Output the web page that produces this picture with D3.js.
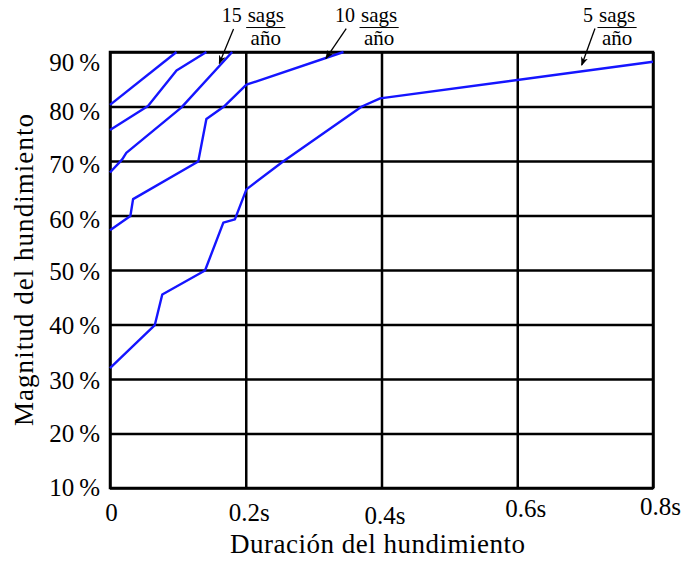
<!DOCTYPE html>
<html>
<head>
<meta charset="utf-8">
<script src="https://cdn.jsdelivr.net/npm/d3@7"></script>
<style>
  body { margin: 0; background: #fff; }
  svg { display: block; }
  text { font-family: "Liberation Serif", "DejaVu Serif", serif; fill: #000; }
</style>
</head>
<body>
<div id="chart"></div>
<script>
// sag curves: [duration (s), magnitude (%)]
const sags25 = [[0, 80.3], [0.098, 90]];
const sags20 = [[0, 75.7], [0.056, 80.1], [0.098, 86.6], [0.142, 90]];
const sags15 = [[0, 67.9], [0.018, 70.3], [0.024, 71.5], [0.105, 79.8], [0.18, 90]];
const sags10 = [[0, 57.3], [0.030, 59.9], [0.034, 63.0], [0.130, 69.9], [0.142, 77.7],
                [0.169, 80.1], [0.201, 84.0], [0.344, 90]];
const sags5 = [[0, 32.0], [0.066, 39.9], [0.077, 45.5], [0.140, 49.9], [0.167, 58.7],
               [0.184, 59.3], [0.201, 64.8], [0.255, 69.9], [0.371, 80.0], [0.398, 81.5],
               [0.8, 88.2]];

const xTicks = [0, 0.2, 0.4, 0.6, 0.8];
const xTickLabels = ["0", "0.2s", "0.4s", "0.6s", "0.8s"];
const yTicks = [10, 20, 30, 40, 50, 60, 70, 80, 90];

// arrow annotations: tip on the curve, tail, and where the number ends
const notes = [
  { n: "15", tip: [0.161, 87.9], tail: [0.182, 94.2], label: [0.194, 95.5] },
  { n: "10", tip: [0.318, 88.8], tail: [0.348, 94.3], label: [0.361, 95.5] },
  { n: "5",  tip: [0.695, 87.6], tail: [0.7145, 94.3], label: [0.7116, 95.5] }
];

const W = 685, H = 563;
const margin = { left: 110, right: 32, top: 52, bottom: 75 };
const w = W - margin.left - margin.right;
const h = H - margin.top - margin.bottom;

const svg = d3.select("#chart").append("svg").attr("width", W).attr("height", H);
const g = svg.append("g").attr("transform", `translate(${margin.left},${margin.top})`);

const x = d3.scaleLinear().domain([0, 0.8]).range([0, w]);
const y = d3.scaleLinear().domain([10, 90]).range([h, 0]);

// small label nudges so the tick text sits like the original
const xNudge = [[1, 0], [3, 0], [3, 3], [8, -4], [7, -6]];
const yNudge = { 90: 10, 80: 5, 70: 3, 60: 4, 50: 1, 40: 1, 30: 1, 20: 0, 10: -1 };

const gx = g.append("g").attr("transform", `translate(0,${h})`)
  .call(d3.axisBottom(x).tickValues(xTicks).tickFormat((d, i) => xTickLabels[i])
    .tickSizeInner(-h).tickSizeOuter(0).tickPadding(15));
gx.select(".domain").remove();
gx.selectAll(".tick line").attr("stroke", "#000").attr("stroke-width", 2.5);
gx.selectAll(".tick text").style("font-size", "25px").attr("fill", "#000")
  .attr("transform", (d, i) => `translate(${xNudge[i][0]},${xNudge[i][1]})`);

const gy = g.append("g")
  .call(d3.axisLeft(y).tickValues(yTicks).tickFormat(d => d + "\u2009%")
    .tickSizeInner(-w).tickSizeOuter(0).tickPadding(10));
gy.select(".domain").remove();
gy.selectAll(".tick line").attr("stroke", "#000").attr("stroke-width", 2.5);
gy.selectAll(".tick text").style("font-size", "25px").attr("fill", "#000")
  .attr("transform", d => `translate(0,${yNudge[d]})`);

g.append("rect").attr("width", w).attr("height", h)
  .attr("fill", "none").attr("stroke", "#000").attr("stroke-width", 2.5);

const line = d3.line().x(d => x(d[0])).y(d => y(d[1]));
[sags25, sags20, sags15, sags10, sags5].forEach(s => {
  g.append("path").datum(s).attr("d", line)
    .attr("fill", "none").attr("stroke", "#1515ff").attr("stroke-width", 2.4)
    .attr("stroke-linejoin", "round");
});

// arrow heads
svg.append("defs").append("marker")
  .attr("id", "head").attr("viewBox", "0 0 10 10")
  .attr("refX", 9).attr("refY", 5)
  .attr("markerWidth", 9).attr("markerHeight", 9)
  .attr("markerUnits", "userSpaceOnUse")
  .attr("orient", "auto")
  .append("path").attr("d", "M0,1 L10,5 L0,9 L3,5 z").attr("fill", "#000");

notes.forEach(a => {
  g.append("line")
    .attr("x1", x(a.tail[0])).attr("y1", y(a.tail[1]))
    .attr("x2", x(a.tip[0])).attr("y2", y(a.tip[1]))
    .attr("stroke", "#000").attr("stroke-width", 1.3)
    .attr("marker-end", "url(#head)");

  const lx = x(a.label[0]), ly = y(a.label[1]);
  g.append("text").attr("x", lx).attr("y", ly)
    .attr("text-anchor", "end").style("font-size", "20px").text(a.n);
  const top = g.append("text").attr("y", ly).style("font-size", "21px")
    .attr("text-anchor", "middle").text("sags");
  const tw = top.node().getComputedTextLength();
  const cx = lx + 5 + tw / 2 + 1;
  top.attr("x", cx);
  g.append("line")
    .attr("x1", cx - tw / 2 - 1.5).attr("x2", cx + tw / 2 + 1.5)
    .attr("y1", ly + 5.5).attr("y2", ly + 5.5)
    .attr("stroke", "#000").attr("stroke-width", 1);
  g.append("text").attr("x", cx).attr("y", ly + 23)
    .attr("text-anchor", "middle").style("font-size", "21px").text("año");
});

// axis titles
svg.append("text")
  .attr("x", margin.left + w / 2 - 4).attr("y", 553)
  .attr("text-anchor", "middle").style("font-size", "27px")
  .attr("textLength", 295).attr("lengthAdjust", "spacing")
  .text("Duración del hundimiento");

svg.append("text")
  .attr("transform", `translate(33,${margin.top + h / 2}) rotate(-90)`)
  .attr("text-anchor", "middle").style("font-size", "27px")
  .attr("textLength", 312).attr("lengthAdjust", "spacing")
  .text("Magnitud del hundimiento");
</script>
</body>
</html>
